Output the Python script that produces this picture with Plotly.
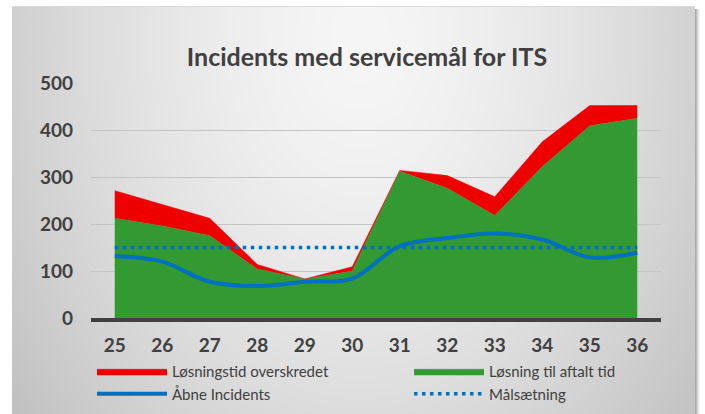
import base64, struct, zlib
import numpy as np
import plotly.graph_objects as go

# ---------------- data ----------------
weeks = ["25", "26", "27", "28", "29", "30", "31", "32", "33", "34", "35", "36"]
on_time = [212, 196, 175, 104, 83, 100, 312, 276, 218, 322, 409, 425]      # Løsning til aftalt tid
overdue = [59, 46, 37, 10, 0, 9, 2, 27, 40, 53, 43, 27]                   # Løsningstid overskredet
open_incidents = [132, 120, 77, 68, 77, 84, 153, 170, 180, 167, 129, 139]  # Åbne Incidents
target = [150] * 12                                                        # Målsætning
y_ticks = [0, 100, 200, 300, 400, 500]

# ---------------- figure geometry (pixels) ----------------
W, H = 705, 414
PX0, PX1, PY_TOP, PY_BOT = 91, 661, 83, 318


def px(x):
    return x / W


def py(y):
    return 1 - y / H


# ---------------- background gradient (png data uri) ----------------
def make_bg():
    yy, xx = np.mgrid[0:H, 0:W].astype(float)
    t = np.sqrt(((xx - 360) / 430) ** 2 + ((yy - 40) / 600) ** 2)
    t = np.clip(t, 0, 1.2)
    g = 246 - 52 * t ** 1.5
    img = np.full((H, W), 255.0)
    inside = (xx >= 12) & (xx < 695) & (yy >= 7)
    img[inside] = g[inside]
    for i, c in enumerate([170, 190, 212, 230, 245]):
        img[9:, 695 + i] = c
    img[6, 12:695] = 218
    arr = np.repeat(img.astype(np.uint8)[:, :, None], 3, axis=2)
    raw = arr.astype(np.int16)
    sub = raw.copy()
    sub[:, 1:, :] = raw[:, 1:, :] - raw[:, :-1, :]
    sub = (sub % 256).astype(np.uint8)
    rows = b"".join(b"\x01" + sub[r].tobytes() for r in range(H))

    def chunk(tag, data):
        c = struct.pack(">I", len(data)) + tag + data
        return c + struct.pack(">I", zlib.crc32(tag + data) & 0xFFFFFFFF)

    png = b"\x89PNG\r\n\x1a\n"
    png += chunk(b"IHDR", struct.pack(">IIBBBBB", W, H, 8, 2, 0, 0, 0))
    png += chunk(b"IDAT", zlib.compress(rows, 9))
    png += chunk(b"IEND", b"")
    return "data:image/png;base64," + base64.b64encode(png).decode()


FONT = "Lato, 'Open Sans', sans-serif"
TXT = "#404040"

fig = go.Figure()
fig.add_trace(go.Scatter(
    x=weeks, y=on_time, name="Løsning til aftalt tid", stackgroup="one",
    mode="lines", line=dict(width=0.5, color="#339933"), fillcolor="#339933",
    legend="legend2", legendrank=1, hoverinfo="skip"))
fig.add_trace(go.Scatter(
    x=weeks, y=overdue, name="Løsningstid overskredet", stackgroup="one",
    mode="lines", line=dict(width=0.5, color="#EE0000"), fillcolor="#EE0000",
    legend="legend", legendrank=1, hoverinfo="skip"))
fig.add_trace(go.Scatter(
    x=weeks, y=open_incidents, name="Åbne Incidents", mode="lines",
    line=dict(width=4, color="#0070C0", shape="spline", smoothing=1),
    legend="legend", legendrank=2))
fig.add_trace(go.Scatter(
    x=weeks, y=target, name="Målsætning", mode="lines",
    line=dict(width=3.5, color="#0070C0", dash="3.5px,4.5px"),
    legend="legend2", legendrank=2))

leg_common = dict(orientation="v", xanchor="left", yanchor="top",
                  y=py(355),
                  font=dict(size=15, color=TXT, family=FONT),
                  bgcolor="rgba(0,0,0,0)", traceorder="normal",
                  tracegroupgap=0, itemwidth=70)

fig.update_layout(
    width=W, height=H,
    margin=dict(l=0, r=0, t=0, b=0, pad=0, autoexpand=False),
    paper_bgcolor="white",
    plot_bgcolor="rgba(0,0,0,0)",
    font=dict(family=FONT, color=TXT),
    title=dict(text="<b>Incidents med servicemål for ITS</b>",
               x=px(367), xanchor="center", y=py(57), yanchor="middle",
               font=dict(size=25, color=TXT, family=FONT)),
    showlegend=True,
    legend=dict(x=px(92), **leg_common),
    legend2=dict(x=px(409), **leg_common),
    images=[dict(source=make_bg(), xref="paper", yref="paper",
                 x=0, y=1, sizex=1, sizey=1,
                 xanchor="left", yanchor="top", sizing="stretch",
                 layer="below")],
    hovermode=False,
)
fig.update_xaxes(type="category", range=[-0.5, 11.5], showgrid=False,
                 domain=[px(PX0), px(PX1)], automargin=False,
                 showline=True, linewidth=3.5, linecolor="#404040",
                 ticks="", ticklabelstandoff=7,
                 tickfont=dict(size=19, family=FONT, color=TXT, weight="bold"),
                 fixedrange=True)
fig.update_yaxes(range=[0, 500], tickvals=y_ticks, showgrid=True,
                 domain=[py(PY_BOT), py(PY_TOP)], automargin=False,
                 gridcolor="#c4c4c4", gridwidth=1, zeroline=False,
                 showline=False, ticks="", ticklabelstandoff=17,
                 tickfont=dict(size=19, family=FONT, color=TXT, weight="bold"),
                 fixedrange=True)

fig.write_html("out.html", config={"displayModeBar": False},
               post_script="document.body.style.margin='0px';")
